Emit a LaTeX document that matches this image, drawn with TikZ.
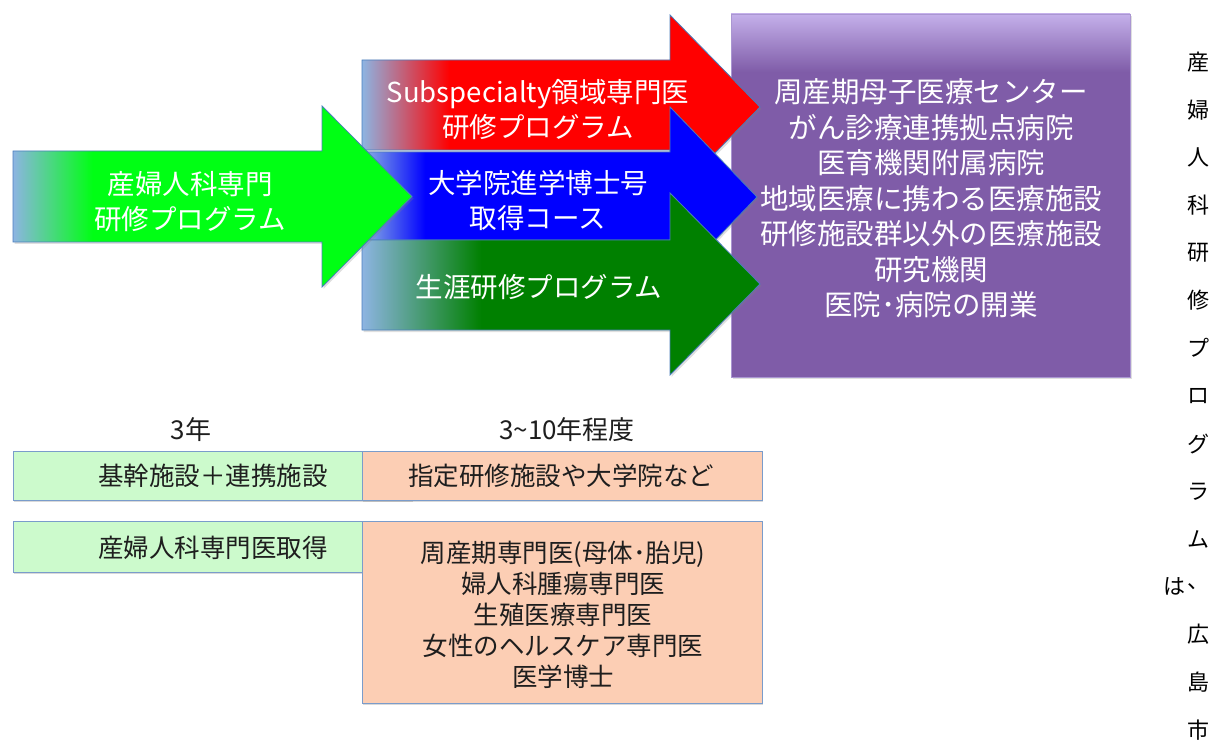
\documentclass[tikz,border=0pt]{standalone}
\usepackage{fontspec}
\setmainfont{Noto Sans CJK JP}
\usetikzlibrary{shadows}
\definecolor{lb}{RGB}{141,180,226}
\definecolor{mgreen}{RGB}{0,255,20}
\definecolor{dgreen}{RGB}{0,128,0}
\definecolor{mred}{RGB}{255,0,0}
\definecolor{mblue}{RGB}{0,0,255}
\definecolor{pu}{RGB}{127,92,168}
\definecolor{pul}{RGB}{196,176,234}
\definecolor{aborder}{RGB}{74,126,187}
\definecolor{boxborder}{RGB}{122,156,203}
\definecolor{lgreen}{RGB}{204,250,204}
\definecolor{peach}{RGB}{252,206,180}
\definecolor{txt}{RGB}{30,30,30}
\pgfdeclarehorizontalshading{shG}{100bp}{color(0bp)=(lb); color(25bp)=(lb); color(35bp)=(mgreen); color(100bp)=(mgreen)}
\pgfdeclarehorizontalshading{shR}{100bp}{color(0bp)=(lb); color(25bp)=(lb); color(36bp)=(mred); color(100bp)=(mred)}
\pgfdeclarehorizontalshading{shB}{100bp}{color(0bp)=(lb); color(25bp)=(lb); color(33bp)=(mblue); color(100bp)=(mblue)}
\pgfdeclarehorizontalshading{shD}{100bp}{color(0bp)=(lb); color(25bp)=(lb); color(40bp)=(dgreen); color(100bp)=(dgreen)}
\pgfdeclareverticalshading{shP}{100bp}{color(0bp)=(pu); color(67bp)=(pu); color(75bp)=(pul); color(100bp)=(pul)}
\begin{document}
\begin{tikzpicture}[x=1pt,y=-1pt,
  arrowshape/.style={draw=aborder, line width=0.8pt, drop shadow={opacity=0.25,shadow xshift=1.5pt,shadow yshift=-2pt}},
  boxshape/.style={draw=boxborder, line width=1pt, drop shadow={opacity=0.3,shadow xshift=1pt,shadow yshift=-2pt}},
  wtext/.style={text=white, align=center, inner sep=0pt, font=\fontsize{27.5}{34.5}\selectfont},
  ptext/.style={text=white, align=center, inner sep=0pt, font=\fontsize{28.5}{35.5}\selectfont},
  btext/.style={text=txt, align=center, inner sep=0pt, font=\fontsize{25.5}{31}\selectfont},
  ltext/.style={text=txt, align=center, inner sep=0pt, font=\fontsize{26}{31}\selectfont},
  vtext/.style={text=black, inner sep=0pt, font=\fontsize{22}{22}\selectfont}
]
\useasboundingbox (0,0) rectangle (1215,743);
% purple destination box
\path[shading=shP, draw={rgb,255:red,170;green,150;blue,210}, line width=0.6pt,
  drop shadow={opacity=0.25,shadow xshift=1.5pt,shadow yshift=-2pt}] (731,14) rectangle (1130,377);
\node[ptext] (dest) at (931,198.5) {周産期母子医療センター\\がん診療連携拠点病院\\医育機関附属病院\\地域医療に携わる医療施設\\研修施設群以外の医療施設\\研究機関\\医院･病院の開業};
% red arrow
\path[shading=shR, arrowshape] (362,60) -- (670,60) -- (670,15) -- (760,107) -- (670,199) -- (670,150) -- (362,150) -- cycle;
% blue arrow
\path[shading=shB, arrowshape] (362,152) -- (670,152) -- (670,107) -- (757,197) -- (670,287) -- (670,240) -- (362,240) -- cycle;
% dark green arrow
\path[shading=shD, arrowshape] (362,240) -- (670,240) -- (670,193) -- (760,284) -- (670,375) -- (670,330) -- (362,330) -- cycle;
% main green arrow
\path[shading=shG, arrowshape] (13,151) -- (322,151) -- (322,106) -- (412,196.5) -- (322,287) -- (322,242) -- (13,242) -- cycle;
\node[wtext] (main) at (190,201.5) {産婦人科専門\\研修プログラム};
\node[wtext] (subsp) at (538,109.5) {Subspecialty領域専門医\\研修プログラム};
\node[wtext] (grad) at (538,200.5) {大学院進学博士号\\取得コース};
\node[wtext] (life) at (539,287) {生涯研修プログラム};
% timeline labels
\node[ltext] (y3) at (191,430) {3年};
\node[ltext] (y10) at (567,430) {3\char`\~10年程度};
% bottom boxes
\path[fill=lgreen, boxshape] (13,451) rectangle (412,500);
\path[fill=peach, boxshape] (362,451) rectangle (762,500);
\path[fill=lgreen, boxshape] (13,521) rectangle (412,572);
\path[fill=peach, boxshape] (362,521) rectangle (762,703);
\node[btext] (base) at (213,476) {基幹施設＋連携施設};
\node[btext] (desig) at (561,476) {指定研修施設や大学院など};
\node[btext] (cert) at (213,548) {産婦人科専門医取得};
\node[btext] (subcert) at (563,615) {周産期専門医(母体･胎児)\\婦人科腫瘍専門医\\生殖医療専門医\\女性のヘルスケア専門医\\医学博士};
% vertical running text
\foreach \c [count=\i from 0] in {産,婦,人,科,研,修,プ,ロ,グ,ラ,ム,、,広,島,市}{
  \node[vtext] (v\i) at (1198,62+47.7*\i) {\c};
}
\node[vtext] (ha) at (1174,62+47.7*11) {は};
\end{tikzpicture}
\end{document}
